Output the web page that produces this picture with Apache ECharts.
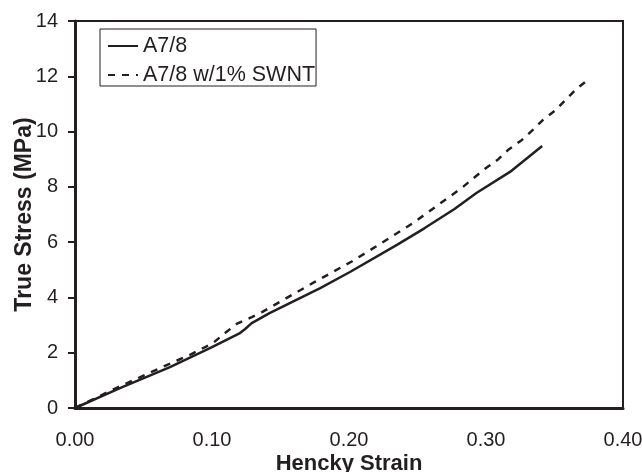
<!DOCTYPE html>
<html>
<head>
<meta charset="utf-8">
<script src="https://cdn.jsdelivr.net/npm/echarts@6/dist/echarts.min.js"></script>
<style>html,body{margin:0;padding:0;background:#fff}#c{width:642px;height:472px}</style>
</head>
<body>
<div id="c"></div>
<script>
var seriesNames = ['A7/8', 'A7/8 w/1% SWNT'];
var strainA = [0, 0.0328, 0.0693, 0.1, 0.1204, 0.124, 0.129, 0.142, 0.179, 0.2007, 0.235, 0.255, 0.277, 0.293, 0.3175, 0.341];
var stressA = [0, 0.72, 1.48, 2.2, 2.71, 2.85, 3.07, 3.43, 4.34, 4.92, 5.9, 6.5, 7.2, 7.78, 8.54, 9.48];
var strainB = [0, 0.03, 0.0606, 0.085, 0.1007, 0.1095, 0.118, 0.129, 0.1365, 0.175, 0.202, 0.22, 0.247, 0.266, 0.275, 0.283, 0.291, 0.300, 0.309, 0.316, 0.326, 0.334, 0.3416, 0.350, 0.358, 0.366, 0.375];
var stressB = [0, 0.72, 1.41, 1.95, 2.35, 2.71, 3.04, 3.29, 3.47, 4.56, 5.3, 5.85, 6.7, 7.38, 7.70, 7.99, 8.32, 8.68, 9.0, 9.33, 9.69, 10.05, 10.42, 10.74, 11.14, 11.54, 11.9];
var xTicks = ['0.00', '0.10', '0.20', '0.30', '0.40'];
var yTicks = ['0', '2', '4', '6', '8', '10', '12', '14'];

function pairs(xs, ys) { return xs.map(function (x, i) { return [x, ys[i]]; }); }
var ink = '#231f20';
var font = 'Liberation Sans, Arial, sans-serif';

var chart = echarts.init(document.getElementById('c'), null, { renderer: 'canvas' });
chart.setOption({
  animation: false,
  backgroundColor: '#fff',
  textStyle: { fontFamily: font, color: ink },
  grid: { left: 75, right: 19, top: 21, bottom: 64, containLabel: false, outerBoundsMode: 'none',
    show: true, borderColor: ink, borderWidth: 2, backgroundColor: 'transparent' },
  legend: {
    orient: 'vertical', left: 100, top: 29,
    borderColor: ink, borderWidth: 1, backgroundColor: '#fff',
    padding: [6, 1, 0, 7], itemGap: 7, itemWidth: 30, itemHeight: 14,
    itemStyle: { opacity: 0 },
    textStyle: { fontFamily: font, fontSize: 21.5, color: ink },
    data: seriesNames
  },
  xAxis: {
    type: 'value', min: 0, max: 0.4, interval: 0.1,
    name: 'Hencky Strain', nameLocation: 'middle', nameGap: 45, nameMoveOverlap: false,
    nameTextStyle: { fontFamily: font, fontSize: 22, fontWeight: 'bold', color: ink },
    axisLine: { show: true, onZero: false, lineStyle: { color: ink, width: 3 } },
    axisTick: { show: false },
    splitLine: { show: false },
    axisLabel: { margin: 22, fontSize: 20, color: ink, fontFamily: font, hideOverlap: false,
      formatter: function (v) { return xTicks[Math.round(v * 10)]; } }
  },
  yAxis: {
    type: 'value', min: 0, max: 14, interval: 2,
    name: 'True Stress (MPa)', nameLocation: 'middle', nameGap: 39, nameMoveOverlap: false,
    nameTextStyle: { fontFamily: font, fontSize: 23, fontWeight: 'bold', color: ink },
    axisLine: { show: true, lineStyle: { color: ink, width: 3 } },
    axisTick: { show: true, length: 7, inside: false, lineStyle: { color: ink, width: 2 } },
    splitLine: { show: false },
    axisLabel: { margin: 17, fontSize: 20, color: ink, fontFamily: font,
      formatter: function (v) { return yTicks[Math.round(v / 2)]; } }
  },
  series: [
    { name: seriesNames[0], type: 'line', data: pairs(strainA, stressA), symbol: 'none', showSymbol: false,
      lineStyle: { color: ink, width: 2.5, type: 'solid' }, itemStyle: { color: ink } },
    { name: seriesNames[1], type: 'line', data: pairs(strainB, stressB), symbol: 'none', showSymbol: false,
      lineStyle: { color: ink, width: 2.5, type: [7, 7] }, itemStyle: { color: ink } }
  ]
});
</script>
</body>
</html>
